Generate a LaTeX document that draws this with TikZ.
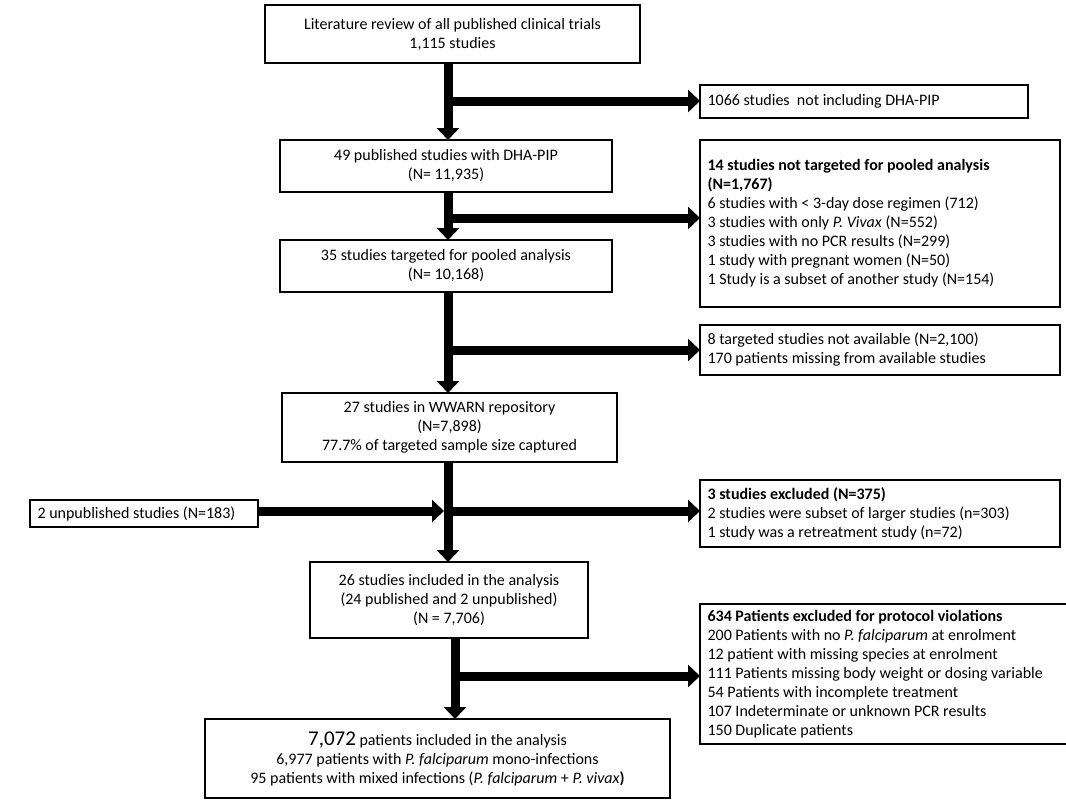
\documentclass[tikz,border=0pt]{standalone}
\usepackage{fontspec}
\setmainfont{Carlito}
\usetikzlibrary{arrows.meta}
\begin{document}
\begin{tikzpicture}[x=1pt,y=-1pt,
 fat/.style={line width=9pt,-{Triangle[length=12pt,width=22pt]}}]
\useasboundingbox (0,0) rectangle (1066,800);
\newcommand{\bx}[6]{\draw[line width=1.3pt] (#2,#3) rectangle (#4,#5); \node[font=\fontsize{16}{19}\selectfont,align=center] (#1) at ({(#2+#4)/2},{(#3+#5)/2}) {#6};}
\newcommand{\lbx}[6]{\draw[line width=1.3pt] (#2,#3) rectangle (#4,#5); \node[font=\fontsize{16}{19}\selectfont,align=left,anchor=west] (#1) at (#2+4,{(#3+#5)/2}) {#6};}
\bx{b1}{265}{5}{640}{63}{Literature review of all published clinical trials\\1,115 studies}
\lbx{r1}{700}{85}{1028}{118}{1066 studies\ \ not including DHA-PIP}
\bx{b2}{280}{140}{612}{192}{49 published studies with DHA-PIP\\(N= 11,935)}
\lbx{r2}{700}{140}{1060}{307}{\textbf{14 studies not targeted for pooled analysis}\\\textbf{(N=1,767)}\\6 studies with < 3-day dose regimen (712)\\3 studies with only \textit{P. Vivax} (N=552)\\3 studies with no PCR results (N=299)\\1 study with pregnant women (N=50)\\1 Study is a subset of another study (N=154)}
\bx{b3}{280}{240}{612}{292}{35 studies targeted for pooled analysis\\(N= 10,168)}
\lbx{r3}{700}{325}{1060}{375}{8 targeted studies not available (N=2,100)\\170 patients missing from available studies}
\bx{b4}{282}{393}{617}{462}{27 studies in WWARN repository\\(N=7,898)\\77.7\% of targeted sample size captured}
\lbx{l4}{30}{500}{258}{527}{2 unpublished studies (N=183)}
\lbx{r4}{700}{480}{1060}{547}{\textbf{3 studies excluded (N=375)}\\2 studies were subset of larger studies (n=303)\\1 study was a retreatment study (n=72)}
\bx{b5}{310}{562}{588}{638}{26 studies included in the analysis\\(24 published and 2 unpublished)\\(N = 7,706)}
\lbx{r5}{700}{604}{1075}{744}{\textbf{634 Patients excluded for protocol violations}\\200 Patients with no \textit{P. falciparum} at enrolment\\12 patient with missing species at enrolment\\111 Patients missing body weight or dosing variable\\54 Patients with incomplete treatment\\107 Indeterminate or unknown PCR results\\150 Duplicate patients}
\bx{b6}{205}{719}{670}{798}{{\fontsize{21}{22}\selectfont 7,072} patients included in the analysis\\6,977 patients with \textit{P. falciparum} mono-infections\\95 patients with mixed infections (\textit{P. falciparum} + \textit{P. vivax}\textbf{)}}
\coordinate (j1) at (448,101); \coordinate (j2) at (448,218);
\coordinate (j3) at (448,350); \coordinate (j4) at (448,511); \coordinate (j5) at (455,676);
\draw[fat] (448,63) -- (448,140);
\draw[fat] (j1) -- (700,101);
\draw[fat] (448,192) -- (448,240);
\draw[fat] (j2) -- (700,218);
\draw[fat] (448,292) -- (448,393);
\draw[fat] (j3) -- (700,350);
\draw[fat] (448,462) -- (448,562);
\draw[fat] (258,511) -- (444,511);
\draw[fat] (j4) -- (700,511);
\draw[fat] (455,638) -- (455,719);
\draw[fat] (j5) -- (700,676);
\end{tikzpicture}
\end{document}
